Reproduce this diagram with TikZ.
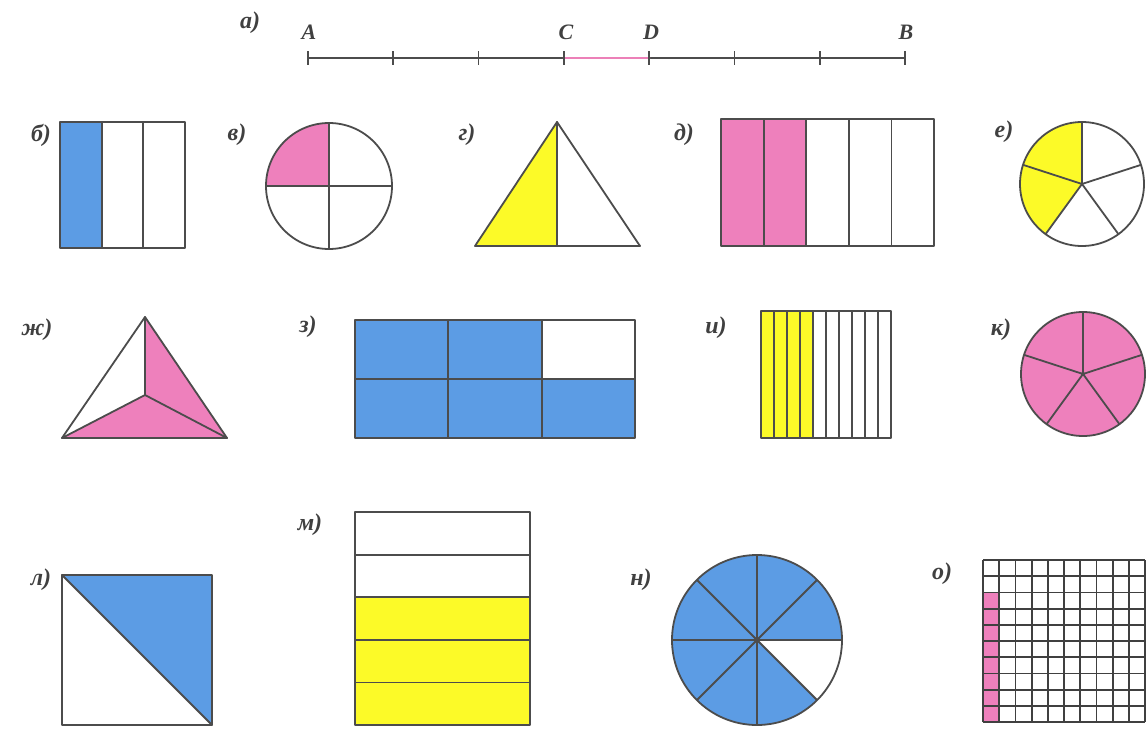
\documentclass[tikz,border=0pt]{standalone}
\usepackage{fontspec}
\setmainfont{Liberation Serif}
\usepackage{tkz-euclide}
\usetikzlibrary{calc}
\definecolor{ShapeClr}{rgb}{0.3,0.3,0.3}
\definecolor{BlueClr}{RGB}{92,156,228}
\definecolor{PinkClr}{RGB}{238,128,188}
\definecolor{YellowClr}{RGB}{252,250,40}
\definecolor{CDClr}{RGB}{236,128,184}
\tikzset{
  figline/.style={line width=1.8pt,draw=ShapeClr,line join=round},
  gridline/.style={line width=1.8pt,draw=black!75},
  lbl/.style={font=\fontsize{24}{26}\selectfont\bfseries\itshape,text=black!75,inner sep=0pt},
  ptlbl/.style={font=\fontsize{22}{24}\selectfont\bfseries\itshape,text=black!75,inner sep=0pt,anchor=base},
}

\begin{document}
\begin{tikzpicture}[x=1pt,y=-1pt]
\useasboundingbox[fill=white] (0,0) rectangle (1146,731);
\tkzSetUpLine[line width=1.8pt,color=ShapeClr]

% а) segment AB
\tkzDefPoints{308/58/A,905/58/B,563.9/58/C,649.1/58/D}
\tkzDrawSegment(A,B)
\tkzDrawSegment[color=CDClr,line width=2.5pt](C,D)
\foreach \i in {0,...,7}
  \draw[figline] ($(A)!\i/7!(B)$) +(0,-7) -- +(0,7);
\node[lbl] (la) at (250,23) {а)};
\node[ptlbl] (lA) at (309,39) {A};
\node[ptlbl] (lC) at (566,39) {C};
\node[ptlbl] (lD) at (651,39) {D};
\node[ptlbl] (lB) at (906,39) {B};

% б) rectangle in 3 parts
\node[lbl] (lb) at (41,135) {б)};
\fill[BlueClr] (60,122) rectangle (101.7,248);
\draw[figline] (60,122) rectangle (185,248);
\foreach \x in {101.7,143.3}
  \draw[figline] (\x,122) -- (\x,248);

% в) circle in 4 parts
\node[lbl] (lv) at (237,135) {в)};
\coordinate (Ov) at (329,186);
\fill[PinkClr] (Ov) -- ++(-180:63) arc[start angle=-180,end angle=-90,radius=63] -- cycle;
\draw[figline] (Ov) circle[radius=63];
\draw[figline] (266,186) -- (392,186);
\draw[figline] (329,123) -- (329,249);

% г) triangle in 2 parts
\node[lbl] (lg) at (467,135) {г)};
\tkzDefPoints{557/122/G1,475/246/G2,640/246/G3,557/246/G4}
\tkzFillPolygon[fill=YellowClr](G1,G2,G4)
\tkzDrawPolygon(G1,G2,G3)
\tkzDrawSegment(G1,G4)

% д) rectangle in 5 parts
\node[lbl] (ld) at (684,135) {д)};
\fill[PinkClr] (721,119) rectangle (806.2,246);
\draw[figline] (721,119) rectangle (934,246);
\foreach \i in {1,...,4}
  \draw[figline] (721+\i*42.6,119) -- (721+\i*42.6,246);

% е) circle in 5 parts
\node[lbl] (le) at (1004,132) {е)};
\coordinate (Oe) at (1082,184);
\fill[YellowClr] (Oe) -- ++(-90:62) arc[start angle=-90,end angle=-234,radius=62] -- cycle;
\draw[figline] (Oe) circle[radius=62];
\foreach \a in {90,162,234,306,18}
  \draw[figline] (Oe) -- ++(-\a:62);

% ж) triangle in 3 parts
\node[lbl] (lzh) at (37,330) {ж)};
\tkzDefPoints{145/317/Z1,62/438/Z2,227/438/Z3,145/395/Z0}
\tkzFillPolygon[fill=PinkClr](Z1,Z3,Z2,Z0)
\tkzDrawPolygon(Z1,Z2,Z3)
\tkzDrawSegments(Z0,Z1 Z0,Z2 Z0,Z3)

% з) rectangle in 6 parts
\node[lbl] (lz) at (308,327) {з)};
\fill[BlueClr] (355,320) rectangle (635,438);
\fill[white] (541.7,320) rectangle (635,379);
\draw[figline] (355,320) rectangle (635,438);
\draw[figline] (355,379) -- (635,379);
\foreach \x in {448.3,541.7}
  \draw[figline] (\x,320) -- (\x,438);

% и) rectangle in 10 stripes
\node[lbl] (li) at (716,328) {и)};
\fill[YellowClr] (761,311) rectangle (813,438);
\draw[figline] (761,311) rectangle (891,438);
\foreach \i in {1,...,9}
  \draw[figline] (761+\i*13,311) -- (761+\i*13,438);

% к) circle in 5 parts
\node[lbl] (lk) at (1001,330) {к)};
\coordinate (Ok) at (1083,374);
\fill[PinkClr] (Ok) circle[radius=62];
\draw[figline] (Ok) circle[radius=62];
\foreach \a in {90,162,234,306,18}
  \draw[figline] (Ok) -- ++(-\a:62);
\fill[ShapeClr] (Ok) circle[radius=2];

% л) square in 2 parts
\node[lbl] (ll) at (41,580) {л)};
\tkzDefPoints{62/575/L1,212/575/L2,212/725/L3,62/725/L4}
\tkzFillPolygon[fill=BlueClr](L1,L2,L3)
\tkzDrawPolygon(L1,L2,L3,L4)
\tkzDrawSegment(L1,L3)

% м) rectangle in 5 rows
\node[lbl] (lm) at (310,525) {м)};
\fill[YellowClr] (355,597.2) rectangle (530,725);
\draw[figline] (355,512) rectangle (530,725);
\foreach \i in {1,...,4}
  \draw[figline] (355,512+\i*42.6) -- (530,512+\i*42.6);

% н) circle in 8 parts
\node[lbl] (ln) at (641,580) {н)};
\coordinate (On) at (757,640);
\fill[BlueClr] (On) circle[radius=85];
\fill[white] (On) -- ++(0:85) arc[start angle=0,end angle=45,radius=85] -- cycle;
\draw[figline] (On) circle[radius=85];
\foreach \a in {0,45,90,135}
  \draw[figline] ($(On)+(\a:85)$) -- ($(On)+(\a+180:85)$);
\fill[ShapeClr] (On) circle[radius=3];

% о) 10 x 10 grid
\node[lbl] (lo) at (942,574) {о)};
\fill[PinkClr] (983,592.4) rectangle (999.2,722);
\foreach \i in {0,...,10} {
  \draw[gridline] (983+\i*16.2,560) -- (983+\i*16.2,722);
  \draw[gridline] (983,560+\i*16.2) -- (1145,560+\i*16.2);
}
\end{tikzpicture}
\end{document}
